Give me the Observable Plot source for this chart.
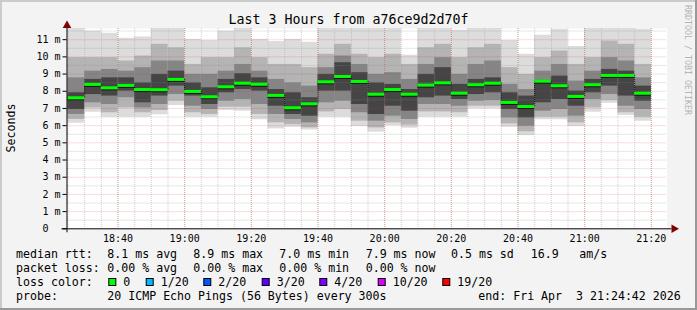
<!DOCTYPE html>
<html><head><meta charset="utf-8">
<script src="https://cdn.jsdelivr.net/npm/d3@7"></script>
<script src="https://cdn.jsdelivr.net/npm/@observablehq/plot@0.6"></script>
<style>
html,body{margin:0;padding:0;background:#f3f3f3;}
#chart{width:697px;height:310px;position:relative;}
svg text{font-family:"DejaVu Sans Mono",monospace;}
</style></head><body><div id="chart"></div>
<script>
// ---- data (5-minute bins, each ending at the time shown) ----
const endTimes = ["18:30","18:35","18:40","18:45","18:50","18:55","19:00","19:05","19:10","19:15","19:20","19:25","19:30","19:35","19:40","19:45","19:50","19:55","20:00","20:05","20:10","20:15","20:20","20:25","20:30","20:35","20:40","20:45","20:50","20:55","21:00","21:05","21:10","21:15","21:20"];
const median = [7.62,8.40,8.20,8.34,8.10,8.09,8.69,7.99,7.68,8.26,8.47,8.41,7.76,7.04,7.27,8.55,8.86,8.57,7.83,8.10,7.83,8.36,8.49,7.89,8.38,8.47,7.35,7.11,8.59,8.32,7.70,8.38,8.92,8.92,7.89];
const pingMax = [12,11.5,11.37,11.08,11.16,12,12,11.02,10.95,11.5,12,11.02,10.89,11.02,10.85,12,12,12,12,12,10.1,12,12,11.55,12,12,10.95,10.15,11.26,11.6,10.6,12,12,12,11.6];
const hi1 = [9.95,9.95,9.95,9.76,10.05,10.73,10.53,9.56,9.95,9.95,10.53,9.95,9.56,9.56,9.37,10.15,10.73,10.15,9.95,10.15,9.56,10.53,10.73,9.95,10.53,10.73,9.37,8.98,9.95,10.34,9.56,9.95,10.92,10.73,9.56];
const hi2 = [8.78,9.17,9.27,9.17,9.37,9.76,9.76,8.98,8.98,9.17,9.56,9.17,8.69,8.49,8.30,9.37,10.05,9.56,8.98,9.08,8.69,9.56,9.95,8.98,9.56,9.76,8.40,8.10,9.17,9.56,8.59,9.17,9.95,9.76,8.78];
const hi3 = [7.91,8.69,8.78,8.78,8.49,8.98,9.17,8.49,8.20,8.69,9.02,8.78,8.10,7.91,7.62,8.98,9.66,9.08,8.49,8.40,8.10,8.98,9.37,8.40,8.69,8.78,7.91,7.72,8.63,8.88,8.01,8.69,9.27,9.17,8.30];
const lo3 = [6.94,7.81,7.72,8.01,7.33,7.72,8.30,7.72,7.23,7.91,8.10,8.01,7.13,6.65,6.55,8.01,8.01,7.23,6.65,7.13,6.84,7.62,7.72,7.52,7.81,7.91,6.94,6.45,7.33,7.52,7.13,7.91,8.30,7.72,7.42];
const lo2 = [6.65,7.33,7.23,7.62,7.03,7.23,7.81,7.13,6.94,7.42,7.52,7.23,6.65,6.36,6.16,7.33,7.42,6.75,6.26,6.55,6.36,7.23,7.23,7.13,7.42,7.46,6.45,5.97,6.84,6.94,6.55,7.52,7.81,7.13,6.94];
const lo1 = [6.36,7.03,6.75,7.03,6.75,6.88,7.42,6.75,6.65,7.07,7.07,6.65,6.16,6.06,5.87,6.80,6.94,6.26,5.87,6.16,6.03,6.80,6.80,6.75,7.13,7.13,6.10,5.64,6.49,6.49,6.16,7.03,7.46,6.75,6.49];
const pingMin = [6.14,6.78,6.49,6.49,6.49,6.63,7.17,6.49,6.49,6.88,6.84,6.34,5.81,5.91,5.75,6.49,6.49,5.95,5.62,6.00,5.85,6.49,6.49,6.50,6.98,6.98,5.91,5.42,6.34,6.34,5.95,6.78,7.30,6.59,6.26];

const xTickLabels = ["18:40","19:00","19:20","19:40","20:00","20:20","20:40","21:00","21:20"];
const yTickValues = [0,1,2,3,4,5,6,7,8,9,10,11];

const legendStats = [
  ["median rtt:", ["8.1 ms avg","8.9 ms max","7.0 ms min","7.9 ms now","0.5 ms sd","16.9","am/s"]],
  ["packet loss:", ["0.00 % avg","0.00 % max","0.00 % min","0.00 % now"]]
];
const lossLabels = ["0","1/20","2/20","3/20","4/20","10/20","19/20"];
const lossColors = ["#00ff00","#00b8ff","#0059ff","#5e00ff","#7e00ff","#dd00ff","#ff0000"];
const probeText = "20 ICMP Echo Pings (56 Bytes) every 300s";
const endText = "end: Fri Apr\u00a0\u00a03 21:24:42 2026";
const title = "Last 3 Hours from a76ce9d2d70f";

// ---- build ----
const day = "2026-04-03";
const toDate = s => new Date(`${day}T${s}:00Z`);
const rangeStart = new Date(`${day}T18:24:42Z`);
const rangeEnd = new Date(`${day}T21:24:42Z`);

const bars = endTimes.map((t, i) => {
  const x2 = toDate(t);
  return {x1: new Date(+x2 - 300000), x2, min: pingMin[i], max: pingMax[i],
    lo1: lo1[i], hi1: hi1[i], lo2: lo2[i], hi2: hi2[i], lo3: lo3[i], hi3: hi3[i], med: median[i]};
});
const steps = bars.slice(1).map((b, i) => ({x: b.x1, y1: bars[i].med, y2: b.med}));

const minorX = d3.utcMinute.every(5).range(rangeStart, rangeEnd);
const majorX = xTickLabels.map(toDate);
const minorY = d3.range(0.5, 11.6, 1);
const majorY = yTickValues.filter(d => d > 0);

const gridGray = "rgba(140,140,140,0.42)";
const gridRed = "rgba(215,50,50,0.32)";

const chart = Plot.plot({
  width: 697, height: 310,
  marginLeft: 66.5, marginRight: 30.5, marginTop: 28, marginBottom: 81.7,
  x: {type: "utc", domain: [rangeStart, rangeEnd]},
  y: {domain: [0, 11.65]},
  style: {background: "transparent", fontFamily: "DejaVu Sans Mono, monospace", color: "black"},
  marks: [
    Plot.frame({fill: "white", stroke: null}),
    Plot.rectY(bars, {x1: "x1", x2: "x2", y1: "min", y2: "max", fill: "#dcdcdc", clip: true}),
    Plot.rectY(bars, {x1: "x1", x2: "x2", y1: "lo1", y2: "hi1", fill: "#b4b4b4", clip: true}),
    Plot.rectY(bars, {x1: "x1", x2: "x2", y1: "lo2", y2: "hi2", fill: "#858585", clip: true}),
    Plot.rectY(bars, {x1: "x1", x2: "x2", y1: "lo3", y2: "hi3", fill: "#454545", clip: true}),
    Plot.ruleY(minorY, {stroke: gridGray, strokeDasharray: "1,1"}),
    Plot.ruleX(minorX, {stroke: gridGray, strokeDasharray: "1,1"}),
    Plot.ruleY(majorY, {stroke: gridRed, strokeDasharray: "1,1"}),
    Plot.ruleX(majorX, {stroke: gridRed, strokeDasharray: "1,1"}),
    Plot.ruleX(steps, {x: "x", y1: "y1", y2: "y2", stroke: "#111", strokeDasharray: "1,1"}),
    Plot.ruleY(bars, {x1: "x1", x2: "x2", y: "med", stroke: "#111", strokeWidth: 1, dy: 2}),
    Plot.ruleY(bars, {x1: "x1", x2: "x2", y: "med", stroke: "#00ff00", strokeWidth: 3}),
    Plot.axisY({ticks: yTickValues, tickSize: 4, tickPadding: 2.5, fontSize: 10,
      tickFormat: d => d === 0 ? "0\u00a0\u00a0" : d + "\u00a0m", label: null}),
    Plot.axisX({ticks: majorX, tickSize: 0, tickPadding: 6, fontSize: 10,
      tickFormat: d3.utcFormat("%H:%M"), label: null}),
    Plot.ruleY([0], {stroke: "black", insetLeft: -5, insetRight: -5}),
    Plot.ruleX([rangeStart], {stroke: "black", insetTop: -3, insetBottom: -4}),
    Plot.dot([{x: rangeEnd, y: 0}], {x: "x", y: "y", symbol: "triangle", r: 3.2, rotate: 90, fill: "#7f0000", stroke: null, dx: 7}),
    Plot.dot([{x: rangeStart, y: 11.65}], {x: "x", y: "y", symbol: "triangle", r: 3.2, fill: "#7f0000", stroke: null, dy: -3})
  ]
});
document.getElementById("chart").appendChild(chart);

// ---- texts: title, label, legend ----
const svg = d3.select(chart);
const txt = (x, y, s, size, opts = {}) => {
  const t = svg.append("text").attr("x", x).attr("y", y).text(s)
    .attr("font-size", size).attr("fill", opts.fill || "black")
    .attr("text-anchor", opts.anchor || "start")
    .style("font-family", "'DejaVu Sans Mono', monospace");
  if (opts.transform) t.attr("transform", opts.transform);
  return t;
};
// background and border shading
svg.insert("rect", ":first-child").attr("x", 0).attr("y", 0).attr("width", 697).attr("height", 310).attr("fill", "#f3f3f3");
svg.append("rect").attr("x", 0).attr("y", 0).attr("width", 697).attr("height", 2).attr("fill", "#cbcbcb");
svg.append("rect").attr("x", 0).attr("y", 0).attr("width", 2).attr("height", 310).attr("fill", "#cbcbcb");
svg.append("rect").attr("x", 695).attr("y", 0).attr("width", 2).attr("height", 310).attr("fill", "#999");
svg.append("rect").attr("x", 0).attr("y", 308).attr("width", 697).attr("height", 2).attr("fill", "#999");

txt(348.5, 24, title, 13.3, {anchor: "middle"});
txt(0, 0, "Seconds", 11.6, {anchor: "middle", transform: "translate(15,128) rotate(-90)"});
txt(0, 0, "RRDTOOL / TOBI OETIKER", 8.3, {fill: "#b4b4b4", transform: "translate(685,5) rotate(90)"});

const lineY = [258.2, 271.9, 285.7, 299.5];
const statX = [107.3, 193.3, 279.3, 365.7, 451, 530.7, 579.3];
legendStats.forEach(([head, items], r) => {
  txt(16, lineY[r], head, 11.6);
  items.forEach((s, i) => txt(statX[i], lineY[r], s, 11.6));
});
txt(16, lineY[2], "loss color:", 11.6);
const swX = [108.3, 145.7, 203.3, 261.7, 319.3, 377.7, 442.3];
lossLabels.forEach((lab, i) => {
  svg.append("rect").attr("x", swX[i] + 0.5).attr("y", 278.5).attr("width", 7).attr("height", 7)
    .attr("fill", lossColors[i]).attr("stroke", "black").attr("stroke-width", 1);
  txt(swX[i] + 15, lineY[2], lab, 11.6);
});
txt(16, lineY[3], "probe:", 11.6);
txt(107.3, lineY[3], probeText, 11.6);
txt(478.3, lineY[3], endText, 11.6);
</script></body></html>
